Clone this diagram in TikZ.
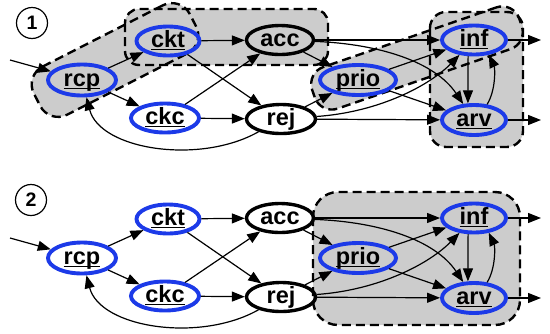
\documentclass[tikz,border=0pt]{standalone}
\usepackage{fontspec}
\setmainfont{Liberation Sans}
\usetikzlibrary{shapes.geometric,arrows.meta}
\definecolor{nblue}{RGB}{28,58,232}
\definecolor{rgray}{RGB}{204,204,204}
\newcommand\ulab[1]{\setbox0\hbox{#1}\rlap{\rule[-3.2pt]{\wd0}{1.3pt}}\box0}
\tikzset{
 base/.style={ellipse, inner sep=0pt, font=\fontsize{23.5}{26}\selectfont\bfseries, text height=16.5pt, text depth=4pt},
 bnode/.style={base, draw=nblue, line width=3.9pt},
 knode/.style={base, draw=black, line width=3.4pt},
 edge/.style={line width=1.2pt, -{Triangle[length=13pt,width=10pt]}},
 regfill/.style={fill=rgray, rounded corners=#1},
 regline/.style={draw=black, line width=2.4pt, dash pattern=on 9pt off 5pt, rounded corners=#1},
 bandA/.style={rectangle, inner sep=0pt, rotate=27, minimum width=175pt, minimum height=54pt, rounded corners=20pt},
 bandC/.style={rectangle, inner sep=0pt, rotate=19, minimum width=219pt, minimum height=44pt, rounded corners=18pt},
 numlab/.style={circle, draw=black, line width=1.2pt, minimum size=31pt, inner sep=0pt, font=\fontsize{19.5}{19.5}\selectfont\bfseries},
}
\newcommand\graphbody{%
 \node[bnode, minimum width=68pt, minimum height=31pt] (rcp) at (82,80) {\ulab{rcp}};
 \node[bnode, minimum width=63pt, minimum height=28pt] (ckt) at (168,41) {\ulab{ckt}};
 \node[bnode, minimum width=68pt, minimum height=29pt] (ckc) at (165,118) {\ulab{ckc}};
 \node[knode, minimum width=67pt, minimum height=28pt] (acc) at (280,40) {acc};
 \node[knode, minimum width=69pt, minimum height=29pt] (rej) at (281,119) {rej};
 \node[bnode, minimum width=76pt, minimum height=30pt] (prio) at (358,80) {\ulab{prio}};
 \node[bnode, minimum width=64pt, minimum height=27pt] (inf) at (474,40) {\ulab{inf}};
 \node[bnode, minimum width=64pt, minimum height=30pt] (arv) at (474,120) {\ulab{arv}};
 \coordinate (src) at (10,60);
 \coordinate (outi) at (541,40);
 \coordinate (outa) at (541,120);
 \draw[edge] (src) -- (rcp);
 \draw[edge] (rcp) -- (ckt);
 \draw[edge] (rcp) -- (ckc);
 \draw[edge] (ckt) -- (acc);
 \draw[edge] (ckt) -- (rej);
 \draw[edge] (ckc) -- (acc);
 \draw[edge] (ckc) -- (rej);
 \draw[edge] (rej) .. controls (200,165) and (100,150) .. (rcp);
 \draw[edge] (acc) -- (inf);
 \draw[edge] (acc) .. controls (380,44) and (435,62) .. (arv);
 \draw[edge] (acc) -- (prio);
 \draw[edge] (rej) -- (prio);
 \draw[edge] (rej) .. controls (380,112) and (430,85) .. (inf);
 \draw[edge] (rej) -- (arv);
 \draw[edge] (prio) -- (inf);
 \draw[edge] (prio) -- (arv);
 \draw[edge] (inf.-110) -- (arv.110);
 \draw[edge] (arv.50) .. controls (496,90) and (495,68) .. (inf.-45);
 \draw[edge] (inf) -- (outi);
 \draw[edge] (arv) -- (outa);
}
\begin{document}
\begin{tikzpicture}[x=1pt,y=-1pt]
\useasboundingbox (0,0) rectangle (550,333);
% panel 1 regions
\node[bandA, fill=rgray] (fa) at (115,60) {};
\fill[regfill=14pt] (125,9) rectangle (328,65);
\node[bandC, fill=rgray] (fc) at (417,58) {};
\fill[regfill=16pt] (430,12) rectangle (523,147);
\node[bandA, draw=black, line width=2.4pt, dash pattern=on 9pt off 5pt] (oa) at (115,60) {};
\draw[regline=14pt] (125,9) rectangle (328,65);
\node[bandC, draw=black, line width=2.4pt, dash pattern=on 9pt off 5pt] (oc) at (417,58) {};
\draw[regline=16pt] (430,12) rectangle (523,147);
% panel 2 region
\fill[regfill=25pt] (313,192) rectangle (520,325);
\draw[regline=25pt] (313,192) rectangle (520,325);
% labels
\node[numlab] (n1) at (32,23) {1};
\node[numlab] (n2) at (31,200) {2};
\begin{scope}[name prefix=a-]
\graphbody
\end{scope}
\begin{scope}[yshift=-178pt, name prefix=b-]
\graphbody
\end{scope}
\end{tikzpicture}
\end{document}
